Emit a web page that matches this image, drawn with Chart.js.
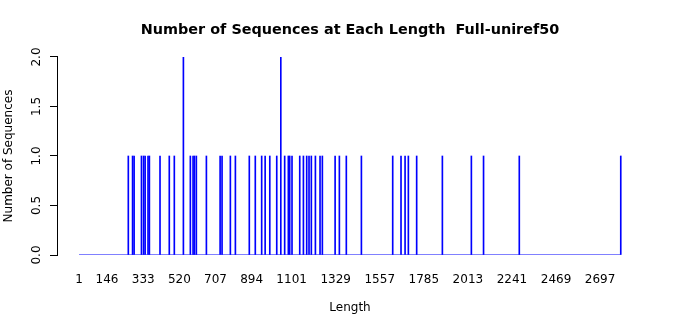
<!DOCTYPE html>
<html>
<head>
<meta charset="utf-8">
<script src="https://cdn.jsdelivr.net/npm/chart.js@4.4.0/dist/chart.umd.min.js"></script>
<style>
  html, body { margin: 0; padding: 0; background: #fff; }
</style>
</head>
<body>
<canvas id="len-chart" width="700" height="315"></canvas>
<script>
  // lengths that occur in the set, and how many sequences have each one
  const lengths = [
    256, 278, 286, 324, 335, 343, 358, 365, 420, 468, 494, 541, 577, 591,
    598, 608, 660, 731, 741, 784, 810, 882, 913, 946, 964, 988, 1024, 1045,
    1065, 1084, 1091, 1103, 1143, 1162, 1179, 1191, 1203, 1224, 1248, 1260,
    1326, 1348, 1384, 1462, 1624, 1667, 1688, 1705, 1748, 1881, 2031, 2094,
    2279, 2804,
  ];
  const counts = [
    1, 1, 1, 1, 1, 1, 1, 1, 1, 1, 1, 2, 1, 1,
    1, 1, 1, 1, 1, 1, 1, 1, 1, 1, 1, 1, 1, 2,
    1, 1, 1, 1, 1, 1, 1, 1, 1, 1, 1, 1,
    1, 1, 1, 1, 1, 1, 1, 1, 1, 1, 1, 1,
    1, 1,
  ];
  const minLength = 1;
  const maxLength = lengths[lengths.length - 1];

  // axis labels
  const xTickLabels = [1, 146, 333, 520, 707, 894, 1101, 1329, 1557, 1785, 2013, 2241, 2469, 2697];
  const yTickValues = [0, 0.5, 1, 1.5, 2];

  const FONT = "'DejaVu Sans', sans-serif";

  // R style bits: sideways y tick labels and an x title centred on the page
  const rStylePlugin = {
    id: "rStyle",
    afterDraw(chart) {
      const y = chart.scales.y;
      const ctx = chart.ctx;
      ctx.save();
      ctx.font = "12px " + FONT;
      ctx.fillStyle = "#000";
      ctx.textAlign = "center";
      ctx.textBaseline = "middle";
      yTickValues.forEach((v) => {
        ctx.save();
        ctx.translate(37, y.getPixelForValue(v));
        ctx.rotate(-Math.PI / 2);
        ctx.fillText(v.toFixed(1), 0, 0);
        ctx.restore();
      });
      ctx.fillText("Length", chart.width / 2, 308);
      ctx.restore();
    },
  };

  const ctx = document.getElementById("len-chart").getContext("2d");
  new Chart(ctx, {
    type: "bar",
    data: {
      datasets: [
        {
          label: "Number of Sequences",
          data: lengths.map((l, i) => ({ x: l, y: counts[i] })),
          backgroundColor: "#0000ff",
          borderWidth: 0,
          barThickness: 1,
          grouped: false,
        },
        {
          // zero height bars show up as a flat blue line
          type: "line",
          data: [
            { x: minLength, y: 0 },
            { x: maxLength, y: 0 },
          ],
          borderColor: "#0000ff",
          borderWidth: 1,
          pointRadius: 0,
          fill: false,
        },
      ],
    },
    options: {
      responsive: false,
      animation: false,
      layout: { padding: 0 },
      plugins: {
        legend: { display: false },
        tooltip: { enabled: false },
        title: {
          display: true,
          text: "Number of Sequences at Each Length  Full-uniref50",
          color: "#000",
          font: { family: FONT, size: 14.4, weight: "bold" },
          padding: { top: 22, bottom: 17.7 },
        },
      },
      scales: {
        x: {
          type: "linear",
          offset: false,
          min: -113,
          max: 3214,
          grid: { display: false, drawTicks: false },
          border: { display: false },
          afterBuildTicks: (scale) => {
            scale.ticks = xTickLabels.map((v) => ({ value: v }));
          },
          afterFit: (scale) => {
            scale.height = 60;
          },
          ticks: {
            autoSkip: false,
            maxRotation: 0,
            padding: 18,
            color: "#000",
            font: { family: FONT, size: 12 },
            callback: (v) => String(v),
          },
        },
        y: {
          min: 0,
          max: 2,
          afterBuildTicks: (scale) => {
            scale.ticks = yTickValues.map((v) => ({ value: v }));
          },
          afterFit: (scale) => {
            scale.width = 57;
          },
          grid: {
            drawOnChartArea: false,
            drawTicks: true,
            tickLength: 7,
            color: "#000",
          },
          border: { display: true, color: "#000" },
          ticks: { display: false },
          title: {
            display: true,
            text: "Number of Sequences",
            color: "#000",
            font: { family: FONT, size: 12 },
            padding: { top: 2, bottom: 0 },
          },
        },
      },
    },
    plugins: [rStylePlugin],
  });
</script>
</body>
</html>
